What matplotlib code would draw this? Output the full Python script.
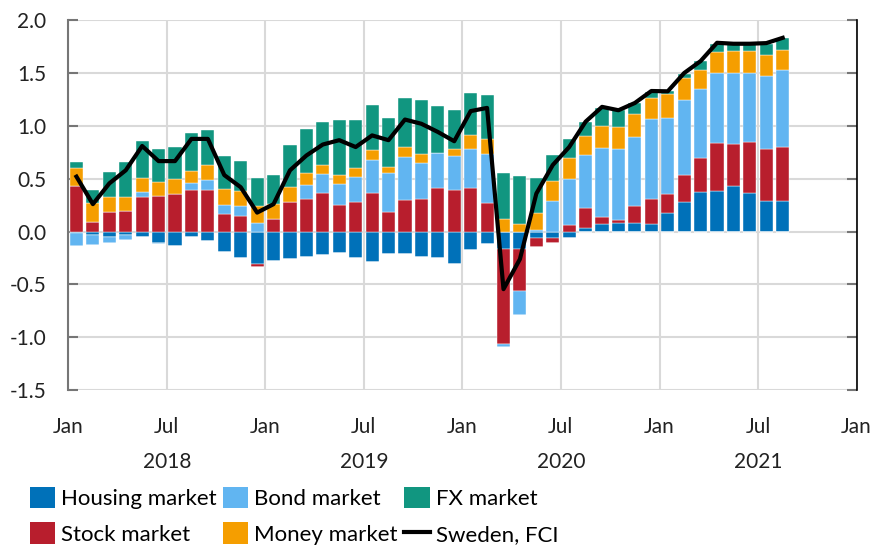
import numpy as np
import matplotlib
matplotlib.use("Agg")
import matplotlib.pyplot as plt
from matplotlib.patches import Patch
from matplotlib.lines import Line2D
from matplotlib.transforms import blended_transform_factory

plt.rcParams["font.family"] = ["Lato", "DejaVu Sans"]
plt.rcParams["axes.unicode_minus"] = False

# -- Data: monthly contributions, Jan 2018 - Aug 2021
housing = [-0.01, -0.03, -0.05, -0.035, -0.05, -0.11, -0.135, -0.05, -0.088, -0.19, -0.248, -0.305,
           -0.277, -0.26, -0.236, -0.22, -0.204, -0.25, -0.283, -0.214, -0.208, -0.242, -0.25, -0.308,
           -0.173, -0.12, -0.167, -0.164, -0.057, -0.057, -0.057, 0.03, 0.069, 0.085, 0.079, 0.072,
           0.173, 0.28, 0.374, 0.38, 0.431, 0.368, 0.289, 0.289]
stock = [0.43, 0.094, 0.186, 0.198, 0.33, 0.336, 0.355, 0.393, 0.393, 0.17, 0.148, -0.031,
         0.116, 0.277, 0.305, 0.368, 0.25, 0.28, 0.362, 0.182, 0.296, 0.308, 0.415, 0.396,
         0.412, 0.274, -0.90, -0.393, -0.085, -0.047, 0.066, 0.19, 0.069, 0.022, 0.163, 0.239,
         0.185, 0.258, 0.318, 0.456, 0.396, 0.484, 0.488, 0.513]
bond = [-0.13, -0.095, -0.054, -0.044, 0.044, -0.01, 0.0, 0.066, 0.10, 0.078, 0.091, 0.079,
        0.0, 0.0, 0.132, 0.173, 0.2, 0.236, 0.311, 0.371, 0.412, 0.343, 0.324, 0.315,
        0.365, 0.456, -0.022, -0.23, 0.019, 0.286, 0.428, 0.506, 0.657, 0.67, 0.651, 0.758,
        0.72, 0.71, 0.654, 0.667, 0.676, 0.648, 0.698, 0.729]
money = [0.17, 0.18, 0.145, 0.126, 0.132, 0.13, 0.145, 0.11, 0.138, 0.157, 0.145, 0.163,
         0.142, 0.145, 0.116, 0.085, 0.088, 0.085, 0.097, 0.06, 0.088, 0.079, 0.0, 0.075,
         0.135, 0.145, 0.12, 0.072, 0.16, 0.189, 0.198, 0.183, 0.204, 0.217, 0.223, 0.198,
         0.22, 0.205, 0.182, 0.195, 0.201, 0.204, 0.195, 0.183]
fx = [0.06, 0.12, 0.23, 0.33, 0.35, 0.315, 0.30, 0.36, 0.327, 0.314, 0.283, 0.267,
      0.274, 0.40, 0.415, 0.415, 0.52, 0.453, 0.425, 0.462, 0.468, 0.519, 0.447, 0.368,
      0.40, 0.418, 0.43, 0.453, 0.324, 0.251, 0.185, 0.126, 0.173, 0.154, 0.10, 0.055,
      0.028, 0.041, 0.085, 0.079, 0.073, 0.073, 0.10, 0.113]
fci = [0.52, 0.26, 0.456, 0.58, 0.81, 0.667, 0.667, 0.877, 0.877, 0.535, 0.42, 0.18,
       0.26, 0.58, 0.72, 0.824, 0.865, 0.80, 0.91, 0.865, 1.06, 1.02, 0.943, 0.855,
       1.14, 1.17, -0.544, -0.26, 0.36, 0.63, 0.80, 1.04, 1.18, 1.148, 1.217, 1.33,
       1.327, 1.5, 1.613, 1.786, 1.777, 1.777, 1.783, 1.833]

x_tick_labels = ["Jan", "Jul"] * 4 + ["Jan"]
years = ["2018", "2019", "2020", "2021"]

series = [
    ("Housing market", housing, "#0071b9"),
    ("Stock market",   stock,   "#b81e2d"),
    ("Bond market",    bond,    "#61b5f1"),
    ("Money market",   money,   "#f59e00"),
    ("FX market",      fx,      "#119680"),
]

fig = plt.figure(figsize=(8.75, 5.45), dpi=100)
ax = fig.add_axes([0.078, 0.284, 0.901, 0.679])

x = np.arange(len(fci)) + 0.5
pos_bottom = np.zeros(len(x))
neg_bottom = np.zeros(len(x))
for name, vals, color in series:
    v = np.array(vals)
    pos = np.where(v > 0, v, 0)
    neg = np.where(v < 0, v, 0)
    ax.bar(x, pos, width=0.8, bottom=pos_bottom, color=color, edgecolor="white", linewidth=0.3, zorder=2)
    ax.bar(x, neg, width=0.8, bottom=neg_bottom, color=color, edgecolor="white", linewidth=0.3, zorder=2)
    pos_bottom += pos
    neg_bottom += neg

ax.plot(x, fci, color="black", linewidth=3, zorder=3, solid_joinstyle="round")

# -- Axes styling
ax.set_xlim(0, 48)
ax.set_ylim(-1.5, 2.0)
ax.set_yticks(np.arange(-1.5, 2.01, 0.5))
ax.set_yticklabels([f"{t:.1f}" for t in np.arange(-1.5, 2.01, 0.5)])
ax.set_xticks(np.arange(0, 49, 6))
ax.set_xticklabels(x_tick_labels)
ax.grid(True, color="#d9d9d9", linewidth=1.5, zorder=0)
ax.set_axisbelow(True)

for side in ["top", "bottom"]:
    ax.spines[side].set_visible(False)
ax.spines["left"].set_color("#767676")
ax.spines["left"].set_linewidth(1.5)
ax.spines["right"].set_color("black")
ax.spines["right"].set_linewidth(1.2)

ax.tick_params(axis="y", direction="in", length=7, width=1.5, color="#767676",
               right=True, labelsize=15, pad=16)
ax.tick_params(axis="x", length=0, labelsize=15, pad=19)

trans = blended_transform_factory(ax.transData, ax.transAxes)
for i, yr in enumerate(years):
    ax.text(6 + 12 * i, -0.195, yr, transform=trans, ha="center", va="center", fontsize=15, color="#222222")

for lbl in ax.get_xticklabels() + ax.get_yticklabels():
    lbl.set_color("#222222")

# -- Legend
handles = []
for name, vals, color in series:
    handles.append(Patch(facecolor=color, label=name))
handles.append(Line2D([0], [0], color="black", linewidth=3, label="Sweden, FCI"))

fig.legend(handles=handles, ncol=3, loc="upper left", bbox_to_anchor=(0.034, 0.107),
           frameon=False, fontsize=16, handlelength=1.13, handleheight=1.13,
           handletextpad=0.27, columnspacing=0.3, labelspacing=0.6, borderaxespad=0, borderpad=0)

fig.savefig("out.png", dpi=100)
